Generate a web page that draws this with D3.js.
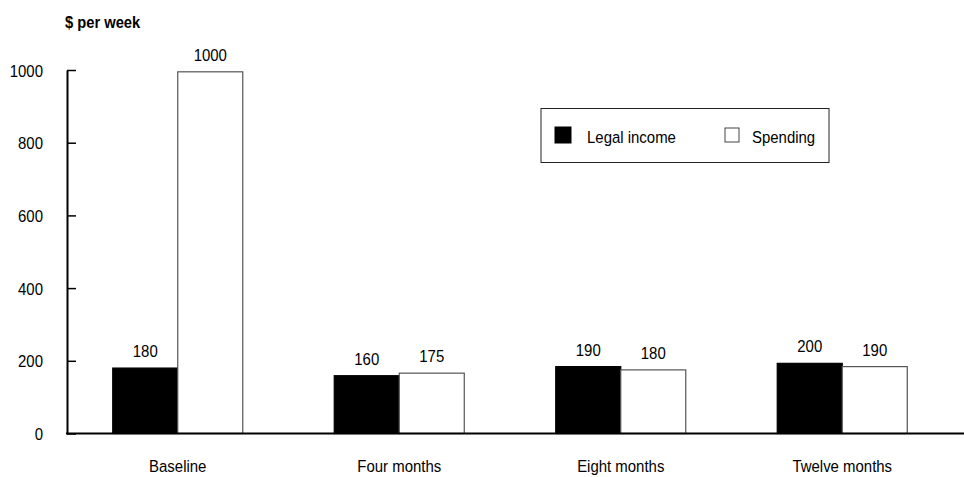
<!DOCTYPE html>
<html>
<head>
<meta charset="utf-8">
<script src="https://cdn.jsdelivr.net/npm/d3@7"></script>
<style>
  html, body { margin: 0; padding: 0; background: #fff; }
  svg { display: block; }
  text { font-family: "Liberation Sans", Arial, sans-serif; fill: #000; }
</style>
</head>
<body>
<svg id="chart" width="964" height="477"></svg>
<script>
// ---- data ----
const categories = ["Baseline", "Four months", "Eight months", "Twelve months"];
const seriesNames = ["Legal income", "Spending"];
const incomeValues = [180, 159, 184, 193];     // bar heights as drawn
const spendingValues = [995, 166, 175, 184];   // bar heights as drawn
const incomeLabels = ["180", "160", "190", "200"];
const spendingLabels = ["1000", "175", "180", "190"];
const yTicks = [0, 200, 400, 600, 800, 1000];
const yTitle = "$ per week";

// ---- layout ----
const svg = d3.select("#chart");
const x0 = 67, x1 = 953, yBase = 433.5, yTop = 70;
const SX = 0.88;   // horizontal condensing of the narrow typeface
const FS = 17;

// place a condensed text at (x, y)
function ctext(parent, x, y, str, opts = {}) {
  return parent.append("text")
    .attr("transform", `translate(${x},${y}) scale(${opts.sx || SX},1)`)
    .attr("text-anchor", opts.anchor || "start")
    .attr("font-size", opts.size || FS)
    .attr("font-weight", opts.weight || "normal")
    .text(str);
}

const x = d3.scaleBand().domain(categories).range([x0, x1]).paddingInner(0.413).paddingOuter(0.2065);
const xs = d3.scaleBand().domain(seriesNames).range([0, x.bandwidth()]);
const y = d3.scaleLinear().domain([0, 1000]).range([yBase, yTop]);

const rows = categories.map((c, i) => ({
  cat: c,
  vals: [
    { s: seriesNames[0], v: incomeValues[i], label: incomeLabels[i] },
    { s: seriesNames[1], v: spendingValues[i], label: spendingLabels[i] }
  ]
}));

// y title
ctext(svg, 65, 28, yTitle, { size: 16, weight: "bold", sx: 0.92 });

// y axis
const yAxis = d3.axisLeft(y).tickValues(yTicks).tickSize(-9).tickFormat("").tickSizeOuter(0);
const gy = svg.append("g").attr("transform", `translate(${x0},0)`).call(yAxis);
gy.select(".domain").attr("stroke", "#000").attr("stroke-width", 2);
gy.selectAll(".tick line").attr("stroke", "#000").attr("stroke-width", 1.5);
gy.selectAll(".tick text").remove();
gy.selectAll(".tick").each(function(d) {
  ctext(d3.select(this), -24, 6, d3.format("d")(d), { anchor: "end" });
});

// bars
const groups = svg.append("g").selectAll("g").data(rows).join("g")
  .attr("transform", d => `translate(${x(d.cat)},0)`);

groups.selectAll("rect").data(d => d.vals).join("rect")
  .attr("x", d => xs(d.s))
  .attr("y", d => y(d.v))
  .attr("width", xs.bandwidth())
  .attr("height", d => yBase - y(d.v))
  .attr("fill", d => d.s === seriesNames[0] ? "#000" : "#fff")
  .attr("stroke", d => d.s === seriesNames[0] ? "#000" : "#555")
  .attr("stroke-width", 1.2);

groups.each(function(d) {
  const g = d3.select(this);
  d.vals.forEach(v => {
    ctext(g, xs(v.s) + xs.bandwidth() / 2, y(v.v) - 11, v.label, { anchor: "middle" });
  });
});

// x axis
const xAxis = d3.axisBottom(x).tickSize(0).tickFormat("").tickSizeOuter(0);
const gx = svg.append("g").attr("transform", `translate(0,${yBase})`).call(xAxis);
gx.select(".domain").remove();
gx.selectAll(".tick").each(function(d) {
  ctext(d3.select(this), 0, 38, d, { anchor: "middle" });
});
svg.append("line").attr("x1", x0 - 1).attr("x2", 964).attr("y1", yBase).attr("y2", yBase)
  .attr("stroke", "#000").attr("stroke-width", 2.2);

// legend
const lg = svg.append("g");
lg.append("rect").attr("x", 541).attr("y", 108.5).attr("width", 288).attr("height", 54)
  .attr("fill", "#fff").attr("stroke", "#222").attr("stroke-width", 1);
const legendItems = [
  { name: seriesNames[0], sx: 555, tx: 587, fill: "#000", stroke: "#000", size: 16, sy: 127 },
  { name: seriesNames[1], sx: 725, tx: 752, fill: "#fff", stroke: "#444", size: 14, sy: 128 }
];
legendItems.forEach(it => {
  lg.append("rect").attr("x", it.sx).attr("y", it.sy).attr("width", it.size).attr("height", it.size)
    .attr("fill", it.fill).attr("stroke", it.stroke).attr("stroke-width", 1);
  ctext(lg, it.tx, 143, it.name);
});
</script>
</body>
</html>
